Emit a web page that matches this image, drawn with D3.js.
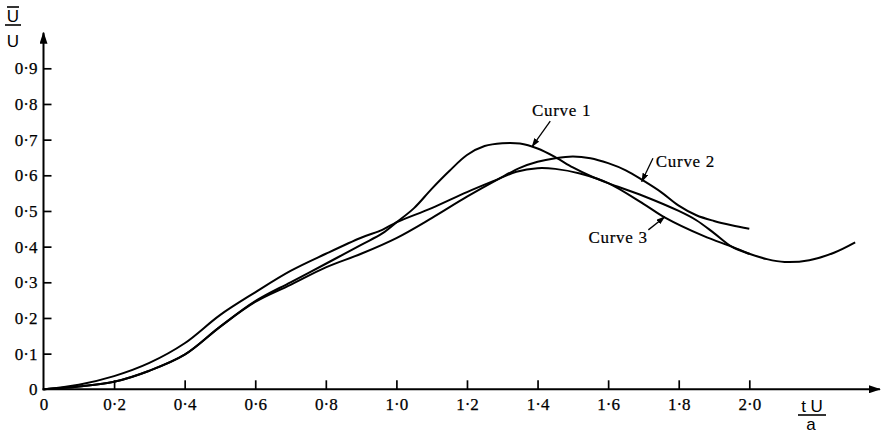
<!DOCTYPE html>
<html>
<head>
<meta charset="utf-8">
<script src="https://cdn.jsdelivr.net/npm/d3@7"></script>
<style>
  body { margin: 0; background: #fff; }
  svg { display: block; }
  .tick text { font-family: "Liberation Serif", "Times New Roman", serif; font-size: 17px; fill: #000; stroke: #000; stroke-width: 0.25px; }
  .curve-label { font-family: "Liberation Serif", "Times New Roman", serif; font-size: 17px; letter-spacing: 0.7px; fill: #000; stroke: #000; stroke-width: 0.2px; }
  .axis-title { font-family: "Liberation Sans", Arial, sans-serif; font-size: 17px; fill: #000; }
</style>
</head>
<body>
<div id="chart"></div>
<script>
// Tick values of both axes
var xTicks = [0, 0.2, 0.4, 0.6, 0.8, 1.0, 1.2, 1.4, 1.6, 1.8, 2.0];
var yTicks = [0, 0.1, 0.2, 0.3, 0.4, 0.5, 0.6, 0.7, 0.8, 0.9];

// Where the arrowed axis lines stop (data units)
var xAxisEnd = 2.37;
var yAxisEnd = 1.0;

// Curves: [tU/a, Ū/U]
var curve1 = [[0, 0], [0.1, 0.008], [0.2, 0.021], [0.3, 0.052], [0.4, 0.097], [0.5, 0.175],
  [0.6, 0.247], [0.7, 0.3], [0.8, 0.352], [0.9, 0.405], [0.96, 0.437], [1.0, 0.468],
  [1.05, 0.508], [1.1, 0.562], [1.15, 0.612], [1.2, 0.657], [1.25, 0.682], [1.3, 0.69],
  [1.35, 0.689], [1.4, 0.675], [1.45, 0.651], [1.5, 0.622], [1.55, 0.598], [1.6, 0.578],
  [1.7, 0.542], [1.8, 0.5], [1.85, 0.474], [1.9, 0.438], [1.95, 0.4], [2.0, 0.38],
  [2.05, 0.365], [2.1, 0.357], [2.17, 0.362], [2.24, 0.383], [2.3, 0.412]];

var curve2 = [[0, 0], [0.1, 0.008], [0.2, 0.021], [0.3, 0.052], [0.4, 0.097], [0.5, 0.175],
  [0.6, 0.245], [0.7, 0.293], [0.8, 0.342], [0.9, 0.38], [1.0, 0.424], [1.1, 0.48],
  [1.2, 0.54], [1.29, 0.59], [1.35, 0.621], [1.4, 0.638], [1.45, 0.648], [1.5, 0.653],
  [1.55, 0.648], [1.6, 0.634], [1.65, 0.614], [1.7, 0.585], [1.75, 0.553], [1.8, 0.515],
  [1.85, 0.488], [1.9, 0.472], [1.95, 0.46], [2.0, 0.45]];

var curve3 = [[0, 0], [0.1, 0.013], [0.2, 0.037], [0.3, 0.074], [0.4, 0.129], [0.5, 0.208],
  [0.6, 0.272], [0.7, 0.332], [0.8, 0.38], [0.9, 0.425], [0.96, 0.447], [1.0, 0.468],
  [1.1, 0.508], [1.2, 0.553], [1.29, 0.59], [1.34, 0.61], [1.4, 0.62], [1.45, 0.618],
  [1.52, 0.605], [1.6, 0.578], [1.7, 0.52], [1.76, 0.482], [1.87, 0.43], [1.95, 0.4],
  [2.0, 0.38]];

// Curve labels: text anchor point and the arrow (from -> to), all in data units
var curveLabels = [
  { text: 'Curve 1', at: [1.384, 0.766], anchor: 'start', from: [1.436, 0.752], to: [1.384, 0.680] },
  { text: 'Curve 2', at: [1.735, 0.624], anchor: 'start', from: [1.727, 0.648], to: [1.695, 0.582] },
  { text: 'Curve 3', at: [1.712, 0.41], anchor: 'end', from: [1.714, 0.447], to: [1.761, 0.484] }
];

var width = 881;
var height = 433;

var x = d3.scaleLinear().domain([0, 2.0]).range([43.5, 749.3]);
var y = d3.scaleLinear().domain([0, 0.9]).range([389.3, 68.3]);

// "0.2" -> "0·2", but the origin stays a plain "0"
var fmt = function(d) {
  return d === 0 ? '0' : d3.format('.1f')(d).replace('.', '\u00b7');
};

var svg = d3.select('#chart').append('svg')
            .attr('width', width)
            .attr('height', height);

var defs = svg.append('defs');
defs.append('marker').attr('id', 'axisArrow')
    .attr('markerUnits', 'userSpaceOnUse')
    .attr('viewBox', '0 0 12 8')
    .attr('refX', 11).attr('refY', 4)
    .attr('markerWidth', 12).attr('markerHeight', 8)
    .attr('orient', 'auto')
    .append('path').attr('d', 'M0,0 L12,4 L0,8 Z').style('fill', '#000');
defs.append('marker').attr('id', 'labelArrow')
    .attr('markerUnits', 'userSpaceOnUse')
    .attr('viewBox', '0 0 9 6')
    .attr('refX', 8.5).attr('refY', 3)
    .attr('markerWidth', 9).attr('markerHeight', 6)
    .attr('orient', 'auto')
    .append('path').attr('d', 'M0,0 L9,3 L0,6 Z').style('fill', '#000');

// Axes. Ticks point into the plot, labels sit outside.
var xAxis = d3.axisBottom(x)
              .tickValues(xTicks)
              .tickSizeInner(-9)
              .tickSizeOuter(0)
              .tickPadding(9)
              .tickFormat(fmt);
var yAxis = d3.axisLeft(y)
              .tickValues(yTicks)
              .tickSizeInner(-8)
              .tickSizeOuter(0)
              .tickPadding(6)
              .tickFormat(fmt);

var gx = svg.append('g').attr('transform', 'translate(0,' + y(0) + ')').call(xAxis);
var gy = svg.append('g').attr('transform', 'translate(' + x(0) + ',0)').call(yAxis);
svg.selectAll('.domain').remove();
svg.selectAll('.tick line').style('stroke', '#000').style('stroke-width', 1.7);
svg.selectAll('.tick text').attr('font-family', null).attr('font-size', null);
// the origin tick is the axis itself
gx.selectAll('.tick').filter(function(d) { return d === 0; }).select('line').remove();
gy.selectAll('.tick').filter(function(d) { return d === 0; }).select('line').remove();

// Axis lines with arrow heads
svg.append('line')
   .attr('x1', x(0) - 1).attr('y1', y(0))
   .attr('x2', x(xAxisEnd)).attr('y2', y(0))
   .style('stroke', '#000').style('stroke-width', 2)
   .attr('marker-end', 'url(#axisArrow)');
svg.append('line')
   .attr('x1', x(0)).attr('y1', y(0) + 1)
   .attr('x2', x(0)).attr('y2', y(yAxisEnd))
   .style('stroke', '#000').style('stroke-width', 2)
   .attr('marker-end', 'url(#axisArrow)');

// Axis titles as fractions
var yTitle = svg.append('g').attr('class', 'axis-title');
yTitle.append('text').attr('x', 13).attr('y', 22).attr('text-anchor', 'middle').text('U');
yTitle.append('line').attr('x1', 7).attr('x2', 19).attr('y1', 7).attr('y2', 7)
      .style('stroke', '#000').style('stroke-width', 1.6);
yTitle.append('line').attr('x1', 5).attr('x2', 21).attr('y1', 25).attr('y2', 25)
      .style('stroke', '#000').style('stroke-width', 1.6);
yTitle.append('text').attr('x', 13).attr('y', 47).attr('text-anchor', 'middle').text('U');

var xTitle = svg.append('g').attr('class', 'axis-title');
xTitle.append('text').attr('x', 812).attr('y', 412).attr('text-anchor', 'middle').text('t U');
xTitle.append('line').attr('x1', 798).attr('x2', 826).attr('y1', 415).attr('y2', 415)
      .style('stroke', '#000').style('stroke-width', 1.6);
xTitle.append('text').attr('x', 811).attr('y', 430).attr('text-anchor', 'middle').text('a');

// Curves, smoothed through the read points
var lineFunc = d3.line()
                 .x(function(d) { return x(d[0]); })
                 .y(function(d) { return y(d[1]); })
                 .curve(d3.curveCatmullRom.alpha(0.5));

svg.append('g').selectAll('path')
   .data([curve1, curve2, curve3])
   .enter().append('path')
   .attr('d', lineFunc)
   .style('fill', 'none')
   .style('stroke', '#000')
   .style('stroke-width', 2)
   .style('stroke-linejoin', 'round');

// Curve labels with pointer arrows
var labels = svg.append('g').selectAll('g').data(curveLabels).enter().append('g');
labels.append('text')
      .attr('class', 'curve-label')
      .attr('x', function(d) { return x(d.at[0]); })
      .attr('y', function(d) { return y(d.at[1]); })
      .attr('text-anchor', function(d) { return d.anchor; })
      .text(function(d) { return d.text; });
labels.append('line')
      .attr('x1', function(d) { return x(d.from[0]); })
      .attr('y1', function(d) { return y(d.from[1]); })
      .attr('x2', function(d) { return x(d.to[0]); })
      .attr('y2', function(d) { return y(d.to[1]); })
      .style('stroke', '#000').style('stroke-width', 1.3)
      .attr('marker-end', 'url(#labelArrow)');
</script>
</body>
</html>
